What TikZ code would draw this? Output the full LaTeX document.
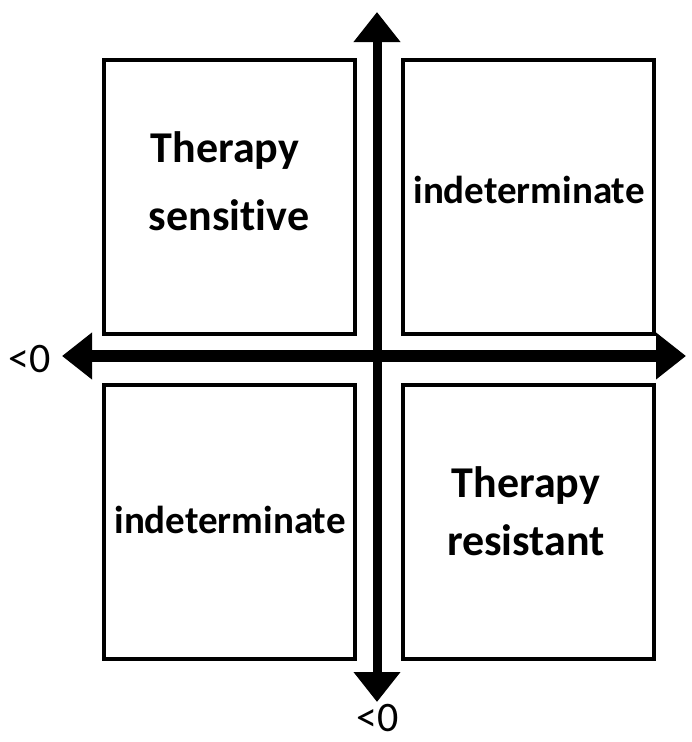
\documentclass[tikz,border=0pt]{standalone}
\usepackage{fontspec}
\setmainfont{Carlito}[Ligatures=NoCommon]
\usetikzlibrary{arrows.meta}
\newcommand{\axistip}{Triangle[length=30pt,width=45pt]}
\tikzstyle{quadrant}=[draw,line width=4pt,inner sep=0pt,anchor=north west,
                      minimum width=251pt,minimum height=274pt]
\tikzstyle{axis}=[\axistip-\axistip,line width=10pt]
\tikzstyle{verdict}=[anchor=base,inner sep=0pt,font=\fontsize{44}{52}\selectfont\bfseries]
\tikzstyle{undecided}=[verdict,font=\fontsize{39}{46}\selectfont\bfseries]
\tikzstyle{limit}=[anchor=base,inner sep=0pt,font=\fontsize{42}{50}\selectfont]

\begin{document}
\begin{tikzpicture}[x=1pt,y=-1pt]

  % White background, also the page size (pixels of the original)
  \fill[white] (0,0) rectangle (686,742);

  % Quadrants
  \node[quadrant] (upleft)    at (102,58)  {};
  \node[quadrant] (upright)   at (401,58)  {};
  \node[quadrant] (downleft)  at (102,383) {};
  \node[quadrant] (downright) at (401,383) {};

  % Axes
  \coordinate (top)    at (377,12);
  \coordinate (bottom) at (377,702);
  \coordinate (left)   at (62,356);
  \coordinate (right)  at (686,356);
  \draw[axis,line width=9pt]  (bottom) -- (top);
  \draw[axis,line width=12pt] (left) -- (right);

  % Labels
  \node[verdict] at (225,162) (therapyA)  {Therapy};
  \node[verdict] at (229,230) (sensitive) {sensitive};
  \node[undecided] at (529,203) (indetA)  {indeterminate};
  \node[undecided] at (230,533) (indetB)  {indeterminate};
  \node[verdict] at (526,497) (therapyB)  {Therapy};
  \node[verdict] at (526,555) (resistant) {resistant};

  \node[limit] at (30,372)  (limitx) {<0};
  \node[limit] at (378,731) (limity) {<0};

\end{tikzpicture}
\end{document}
